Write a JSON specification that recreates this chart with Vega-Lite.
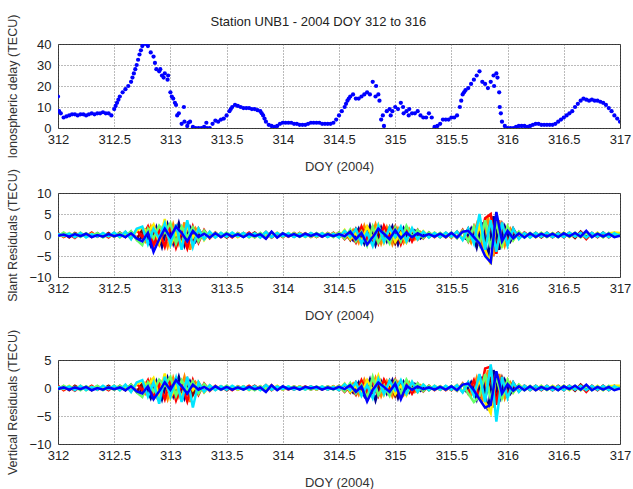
{
"$schema":"https://vega.github.io/schema/vega-lite/v6.json",
"background":"white",
"padding":{"left":5,"top":13,"right":5,"bottom":0},
"title":{"text":"Station UNB1 - 2004 DOY 312 to 316","font":"Liberation Sans","fontSize":13,"fontWeight":"normal","color":"#222","anchor":"middle","offset":-15},
"datasets":{
"ion":[
{"x":312.0,"y":15},{"x":312.01,"y":8},{"x":312.025,"y":7},{"x":312.05,"y":5},{"x":312.075,"y":5.5},{"x":312.1,"y":6},{"x":312.125,"y":6.5},{"x":312.15,"y":6.5},{"x":312.175,"y":6},{"x":312.2,"y":6.5},{"x":312.225,"y":6.5},{"x":312.25,"y":6},{"x":312.275,"y":6.5},{"x":312.3,"y":7},{"x":312.325,"y":6.5},{"x":312.35,"y":7},{"x":312.375,"y":7},{"x":312.4,"y":7.5},{"x":312.425,"y":7},{"x":312.45,"y":7},{"x":312.475,"y":6},{"x":312.5,"y":9},{"x":312.5125,"y":10.5},{"x":312.525,"y":12},{"x":312.5375,"y":13.5},{"x":312.55,"y":15},{"x":312.575,"y":17},{"x":312.6,"y":18.5},{"x":312.625,"y":20},{"x":312.65,"y":22},{"x":312.6625,"y":24},{"x":312.675,"y":26},{"x":312.6875,"y":28},{"x":312.7,"y":30},{"x":312.7125,"y":32.5},{"x":312.725,"y":35},{"x":312.7375,"y":37},{"x":312.75,"y":39},{"x":312.775,"y":40},{"x":312.8,"y":39},{"x":312.825,"y":36},{"x":312.85,"y":34},{"x":312.8625,"y":31},{"x":312.875,"y":28},{"x":312.9,"y":27},{"x":312.91,"y":28},{"x":312.925,"y":25},{"x":312.94,"y":24},{"x":312.95,"y":26},{"x":312.975,"y":23},{"x":312.98,"y":25},{"x":313.0,"y":17},{"x":313.0125,"y":15},{"x":313.025,"y":14},{"x":313.04,"y":12},{"x":313.05,"y":11},{"x":313.06,"y":6},{"x":313.075,"y":7},{"x":313.1,"y":2},{"x":313.12,"y":10},{"x":313.125,"y":3},{"x":313.15,"y":1},{"x":313.16,"y":2.5},{"x":313.175,"y":3},{"x":313.2,"y":0.5},{"x":313.225,"y":0},{"x":313.25,"y":0},{"x":313.275,"y":0},{"x":313.3,"y":0.5},{"x":313.32,"y":2.5},{"x":313.325,"y":0},{"x":313.35,"y":0},{"x":313.375,"y":2},{"x":313.4,"y":3.5},{"x":313.425,"y":3},{"x":313.45,"y":4},{"x":313.475,"y":4.5},{"x":313.5,"y":6},{"x":313.525,"y":8},{"x":313.5375,"y":9},{"x":313.55,"y":10},{"x":313.575,"y":11},{"x":313.6,"y":10.5},{"x":313.625,"y":10},{"x":313.65,"y":9.5},{"x":313.675,"y":9.5},{"x":313.7,"y":9.5},{"x":313.725,"y":9},{"x":313.75,"y":9},{"x":313.775,"y":8.5},{"x":313.8,"y":8},{"x":313.8125,"y":7},{"x":313.825,"y":6},{"x":313.8375,"y":4.5},{"x":313.85,"y":3},{"x":313.875,"y":1.5},{"x":313.9,"y":1},{"x":313.925,"y":0.5},{"x":313.95,"y":1},{"x":313.975,"y":2},{"x":314.0,"y":2.5},{"x":314.025,"y":2.5},{"x":314.05,"y":2.5},{"x":314.075,"y":2.5},{"x":314.1,"y":2},{"x":314.125,"y":2},{"x":314.15,"y":1.5},{"x":314.175,"y":1.5},{"x":314.2,"y":1.5},{"x":314.225,"y":2},{"x":314.25,"y":2.5},{"x":314.275,"y":2.5},{"x":314.3,"y":2.5},{"x":314.325,"y":2.5},{"x":314.35,"y":2},{"x":314.375,"y":2},{"x":314.4,"y":2},{"x":314.425,"y":2},{"x":314.45,"y":2.5},{"x":314.475,"y":4},{"x":314.5,"y":6},{"x":314.525,"y":8},{"x":314.55,"y":10},{"x":314.5625,"y":11.5},{"x":314.575,"y":13},{"x":314.5875,"y":14},{"x":314.6,"y":15},{"x":314.625,"y":16},{"x":314.65,"y":14},{"x":314.675,"y":14},{"x":314.7,"y":15},{"x":314.725,"y":16},{"x":314.75,"y":17},{"x":314.775,"y":16},{"x":314.8,"y":22},{"x":314.825,"y":15},{"x":314.83,"y":20},{"x":314.85,"y":16},{"x":314.86,"y":13},{"x":314.875,"y":4},{"x":314.89,"y":6},{"x":314.9,"y":1},{"x":314.925,"y":8},{"x":314.95,"y":9},{"x":314.96,"y":6},{"x":314.975,"y":8},{"x":315.0,"y":10},{"x":315.025,"y":9},{"x":315.05,"y":12},{"x":315.07,"y":10},{"x":315.075,"y":7},{"x":315.1,"y":8},{"x":315.12,"y":6},{"x":315.125,"y":9},{"x":315.15,"y":7},{"x":315.175,"y":7},{"x":315.2,"y":8},{"x":315.225,"y":6},{"x":315.25,"y":5},{"x":315.275,"y":5},{"x":315.3,"y":7},{"x":315.325,"y":5},{"x":315.35,"y":0.5},{"x":315.375,"y":1},{"x":315.4,"y":2},{"x":315.425,"y":4},{"x":315.45,"y":4},{"x":315.475,"y":4},{"x":315.5,"y":5},{"x":315.525,"y":5},{"x":315.55,"y":6},{"x":315.575,"y":10},{"x":315.5875,"y":13},{"x":315.6,"y":16},{"x":315.6125,"y":17},{"x":315.625,"y":18},{"x":315.65,"y":19},{"x":315.675,"y":21},{"x":315.7,"y":23},{"x":315.725,"y":25},{"x":315.75,"y":27},{"x":315.775,"y":22},{"x":315.8,"y":21},{"x":315.825,"y":19},{"x":315.85,"y":22},{"x":315.875,"y":25},{"x":315.88,"y":20},{"x":315.9,"y":26},{"x":315.91,"y":24},{"x":315.925,"y":17},{"x":315.93,"y":10},{"x":315.94,"y":7},{"x":315.95,"y":3},{"x":315.975,"y":1},{"x":316.0,"y":0},{"x":316.025,"y":0},{"x":316.05,"y":0},{"x":316.075,"y":0.5},{"x":316.1,"y":1},{"x":316.125,"y":1},{"x":316.15,"y":1},{"x":316.175,"y":0.5},{"x":316.2,"y":1},{"x":316.225,"y":1.5},{"x":316.25,"y":2},{"x":316.275,"y":2},{"x":316.3,"y":1.5},{"x":316.325,"y":1.5},{"x":316.35,"y":1.5},{"x":316.375,"y":1.5},{"x":316.4,"y":1.5},{"x":316.425,"y":2},{"x":316.45,"y":3},{"x":316.475,"y":4},{"x":316.5,"y":5},{"x":316.525,"y":6},{"x":316.55,"y":7},{"x":316.575,"y":8},{"x":316.6,"y":10},{"x":316.625,"y":11.5},{"x":316.65,"y":13},{"x":316.675,"y":14},{"x":316.7,"y":13.5},{"x":316.725,"y":13},{"x":316.75,"y":13.5},{"x":316.775,"y":13},{"x":316.8,"y":13},{"x":316.825,"y":12.5},{"x":316.85,"y":12},{"x":316.875,"y":11},{"x":316.9,"y":9.5},{"x":316.925,"y":8},{"x":316.95,"y":6},{"x":316.975,"y":4.5},{"x":317.0,"y":3}
],
"slant":[
{"x":312.00,"a":-0.3,"b":0.5,"c":0.2,"d":-0.4,"e":0.3,"f":-0.2},
{"x":312.05,"a":0.4,"b":-0.5,"c":-0.3,"d":0.6,"e":-0.2,"f":0.1},
{"x":312.10,"a":-0.6,"b":0.2,"c":0.5,"d":-0.2,"e":0.4,"f":-0.4},
{"x":312.15,"a":0.5,"b":-0.7,"c":-0.4,"d":0.3,"e":-0.5,"f":0.2},
{"x":312.20,"a":-0.2,"b":0.4,"c":0.6,"d":-0.5,"e":0.5,"f":-0.3},
{"x":312.25,"a":0.3,"b":-0.3,"c":-0.5,"d":0.4,"e":-0.6,"f":0.3},
{"x":312.30,"a":-0.5,"b":0.6,"c":0.3,"d":-0.3,"e":0.2,"f":-0.5},
{"x":312.35,"a":0.4,"b":-0.4,"c":-0.2,"d":0.5,"e":-0.4,"f":0.0},
{"x":312.40,"a":-0.3,"b":0.3,"c":0.4,"d":-0.6,"e":0.5,"f":-0.4},
{"x":312.45,"a":0.5,"b":-0.6,"c":-0.3,"d":0.2,"e":-0.3,"f":0.2},
{"x":312.50,"a":-0.4,"b":0.5,"c":0.5,"d":-0.4,"e":0.6,"f":-0.3},
{"x":312.55,"a":0.6,"b":-0.4,"c":-0.6,"d":0.5,"e":-0.5,"f":0.1},
{"x":312.60,"a":-0.5,"b":0.7,"c":0.4,"d":-0.3,"e":0.8,"f":-0.5},
{"x":312.65,"a":0.8,"b":-0.8,"c":-0.7,"d":0.9,"e":-1.0,"f":0.4},
{"x":312.70,"a":-1.0,"b":1.2,"c":1.0,"d":-1.2,"e":1.5,"f":-0.8},
{"x":312.75,"a":1.2,"b":-0.5,"c":1.8,"d":-2.4,"e":2.0,"f":-1.5},
{"x":312.80,"a":-1.8,"b":2.0,"c":0.6,"d":1.5,"e":-2.2,"f":0.5},
{"x":312.85,"a":0.5,"b":-2.5,"c":2.5,"d":-0.8,"e":1.5,"f":-4.0},
{"x":312.90,"a":-2.2,"b":1.0,"c":-2.0,"d":2.2,"e":-0.8,"f":-1.0},
{"x":312.95,"a":2.5,"b":-2.8,"c":3.8,"d":0.5,"e":2.8,"f":1.5},
{"x":313.00,"a":-1.0,"b":2.2,"c":-2.5,"d":2.8,"e":-2.2,"f":-0.5},
{"x":313.05,"a":2.0,"b":-3.0,"c":0.5,"d":-2.0,"e":2.5,"f":2.0},
{"x":313.10,"a":-2.0,"b":0.8,"c":-2.2,"d":2.0,"e":-3.5,"f":0.5},
{"x":313.15,"a":2.2,"b":-3.2,"c":2.0,"d":-0.5,"e":3.5,"f":-1.5},
{"x":313.20,"a":-1.8,"b":2.0,"c":-0.6,"d":1.8,"e":-2.8,"f":1.0},
{"x":313.25,"a":1.5,"b":-1.8,"c":1.5,"d":-1.5,"e":1.5,"f":-0.5},
{"x":313.30,"a":-1.0,"b":1.2,"c":-1.2,"d":1.0,"e":-1.0,"f":0.3},
{"x":313.35,"a":0.6,"b":-0.8,"c":0.7,"d":-0.6,"e":0.8,"f":-0.6},
{"x":313.40,"a":-0.5,"b":0.6,"c":-0.5,"d":0.5,"e":-0.6,"f":0.4},
{"x":313.45,"a":0.4,"b":-0.5,"c":0.5,"d":-0.4,"e":0.5,"f":-0.5},
{"x":313.50,"a":-0.6,"b":0.4,"c":-0.3,"d":0.6,"e":-0.4,"f":0.3},
{"x":313.55,"a":0.3,"b":-0.6,"c":0.5,"d":-0.3,"e":0.6,"f":-0.4},
{"x":313.60,"a":-0.4,"b":0.5,"c":-0.5,"d":0.4,"e":-0.3,"f":0.2},
{"x":313.65,"a":0.5,"b":-0.3,"c":0.4,"d":-0.5,"e":0.5,"f":-0.5},
{"x":313.70,"a":-0.3,"b":0.6,"c":-0.6,"d":0.3,"e":-0.5,"f":0.3},
{"x":313.75,"a":0.6,"b":-0.5,"c":0.3,"d":-0.6,"e":0.4,"f":-0.3},
{"x":313.80,"a":-0.5,"b":0.4,"c":-0.4,"d":0.5,"e":-0.6,"f":0.2},
{"x":313.85,"a":0.7,"b":-0.8,"c":0.6,"d":-0.5,"e":0.7,"f":-0.9},
{"x":313.90,"a":-0.6,"b":0.7,"c":-0.5,"d":0.6,"e":-0.5,"f":0.8},
{"x":313.95,"a":0.4,"b":-0.5,"c":0.6,"d":-0.4,"e":0.5,"f":-0.6},
{"x":314.00,"a":-0.5,"b":0.3,"c":-0.4,"d":0.5,"e":-0.3,"f":0.4},
{"x":314.05,"a":0.3,"b":-0.4,"c":0.5,"d":-0.3,"e":0.4,"f":-0.3},
{"x":314.10,"a":-0.4,"b":0.5,"c":-0.3,"d":0.4,"e":-0.5,"f":0.2},
{"x":314.15,"a":0.5,"b":-0.3,"c":0.4,"d":-0.5,"e":0.3,"f":-0.4},
{"x":314.20,"a":-0.3,"b":0.4,"c":-0.5,"d":0.3,"e":-0.4,"f":0.3},
{"x":314.25,"a":0.4,"b":-0.5,"c":0.3,"d":-0.4,"e":0.5,"f":-0.2},
{"x":314.30,"a":-0.5,"b":0.3,"c":-0.4,"d":0.5,"e":-0.3,"f":0.3},
{"x":314.35,"a":0.3,"b":-0.4,"c":0.5,"d":-0.3,"e":0.4,"f":-0.4},
{"x":314.40,"a":-0.4,"b":0.5,"c":-0.3,"d":0.4,"e":-0.5,"f":0.2},
{"x":314.45,"a":0.5,"b":-0.3,"c":0.4,"d":-0.5,"e":0.3,"f":-0.3},
{"x":314.50,"a":-0.5,"b":0.6,"c":-0.5,"d":0.6,"e":-0.6,"f":0.2},
{"x":314.55,"a":0.9,"b":-1.0,"c":1.2,"d":-0.8,"e":1.0,"f":-0.3},
{"x":314.60,"a":-1.2,"b":0.5,"c":-1.0,"d":1.3,"e":-0.5,"f":0.8},
{"x":314.65,"a":1.5,"b":-1.8,"c":0.4,"d":-1.5,"e":1.4,"f":-1.0},
{"x":314.70,"a":-0.6,"b":2.0,"c":-1.5,"d":0.8,"e":-2.0,"f":0.5},
{"x":314.75,"a":1.8,"b":-1.2,"c":2.0,"d":-2.5,"e":0.6,"f":-2.3},
{"x":314.80,"a":-2.0,"b":1.8,"c":-0.7,"d":2.0,"e":-2.6,"f":-0.5},
{"x":314.85,"a":0.8,"b":-2.0,"c":2.4,"d":-1.8,"e":2.2,"f":1.5},
{"x":314.90,"a":-1.5,"b":2.2,"c":-1.8,"d":0.6,"e":-1.6,"f":0.3},
{"x":314.95,"a":1.8,"b":-0.6,"c":1.5,"d":-2.0,"e":1.8,"f":-1.0},
{"x":315.00,"a":-2.0,"b":2.0,"c":-1.6,"d":1.8,"e":-0.5,"f":1.2},
{"x":315.05,"a":1.5,"b":-2.2,"c":0.5,"d":-1.5,"e":2.0,"f":-0.8},
{"x":315.10,"a":-1.6,"b":1.5,"c":-1.8,"d":2.2,"e":-1.5,"f":0.6},
{"x":315.15,"a":1.2,"b":-1.5,"c":1.4,"d":-0.4,"e":1.6,"f":-0.5},
{"x":315.20,"a":-1.0,"b":1.2,"c":-1.0,"d":1.2,"e":-1.0,"f":0.4},
{"x":315.25,"a":0.7,"b":-0.8,"c":0.9,"d":-0.7,"e":0.8,"f":-0.3},
{"x":315.30,"a":-0.5,"b":0.6,"c":-0.5,"d":0.6,"e":-0.6,"f":0.2},
{"x":315.35,"a":0.4,"b":-0.5,"c":0.6,"d":-0.4,"e":0.5,"f":-0.4},
{"x":315.40,"a":-0.5,"b":0.4,"c":-0.4,"d":0.5,"e":-0.5,"f":0.3},
{"x":315.45,"a":0.5,"b":-0.6,"c":0.4,"d":-0.5,"e":0.6,"f":-0.5},
{"x":315.50,"a":-0.6,"b":0.5,"c":-0.5,"d":0.6,"e":-0.4,"f":0.5},
{"x":315.55,"a":0.8,"b":-0.7,"c":0.7,"d":-0.8,"e":0.8,"f":-0.6},
{"x":315.60,"a":-1.0,"b":1.2,"c":-0.8,"d":1.0,"e":-1.2,"f":0.8},
{"x":315.65,"a":1.5,"b":-1.5,"c":1.2,"d":-1.5,"e":1.5,"f":1.0},
{"x":315.70,"a":-1.5,"b":2.0,"c":-1.8,"d":2.0,"e":-2.0,"f":-0.5},
{"x":315.75,"a":2.0,"b":-2.5,"c":2.2,"d":-2.2,"e":5.0,"f":-2.0},
{"x":315.80,"a":-2.5,"b":4.0,"c":-3.5,"d":3.5,"e":-3.5,"f":-5.0},
{"x":315.85,"a":3.0,"b":5.0,"c":-7.0,"d":-3.0,"e":3.5,"f":-6.5},
{"x":315.90,"a":-3.0,"b":-4.5,"c":4.0,"d":3.0,"e":-4.0,"f":5.5},
{"x":315.95,"a":2.5,"b":3.0,"c":-3.0,"d":-2.5,"e":3.0,"f":-1.5},
{"x":316.00,"a":-2.0,"b":-2.2,"c":2.0,"d":2.0,"e":-2.5,"f":1.0},
{"x":316.05,"a":1.5,"b":1.2,"c":-1.2,"d":-1.2,"e":1.5,"f":-0.8},
{"x":316.10,"a":-0.8,"b":-0.8,"c":0.8,"d":0.8,"e":-1.0,"f":0.4},
{"x":316.15,"a":0.5,"b":0.6,"c":-0.5,"d":-0.6,"e":0.5,"f":-0.6},
{"x":316.20,"a":-0.4,"b":-0.5,"c":0.4,"d":0.5,"e":-0.6,"f":0.4},
{"x":316.25,"a":0.5,"b":0.4,"c":-0.6,"d":-0.4,"e":0.5,"f":-0.5},
{"x":316.30,"a":-0.6,"b":-0.4,"c":0.5,"d":0.5,"e":-0.4,"f":0.3},
{"x":316.35,"a":0.4,"b":0.6,"c":-0.4,"d":-0.5,"e":0.6,"f":-0.4},
{"x":316.40,"a":-0.5,"b":-0.5,"c":0.5,"d":0.4,"e":-0.5,"f":0.3},
{"x":316.45,"a":0.6,"b":0.4,"c":-0.3,"d":-0.6,"e":0.4,"f":-0.5},
{"x":316.50,"a":-0.4,"b":-0.6,"c":0.6,"d":0.5,"e":-0.5,"f":0.4},
{"x":316.55,"a":0.5,"b":0.5,"c":-0.5,"d":-0.4,"e":0.6,"f":-0.3},
{"x":316.60,"a":-0.7,"b":-0.4,"c":0.4,"d":0.6,"e":-0.4,"f":0.5},
{"x":316.65,"a":0.8,"b":0.6,"c":-0.6,"d":-0.5,"e":0.5,"f":-0.4},
{"x":316.70,"a":-0.5,"b":-1.0,"c":0.5,"d":0.6,"e":-0.6,"f":1.0},
{"x":316.75,"a":0.4,"b":0.5,"c":-0.4,"d":-0.5,"e":0.5,"f":-0.5},
{"x":316.80,"a":-0.5,"b":-0.4,"c":0.6,"d":0.4,"e":-0.4,"f":0.3},
{"x":316.85,"a":0.6,"b":0.5,"c":-0.5,"d":-0.6,"e":0.6,"f":-0.4},
{"x":316.90,"a":-0.4,"b":-0.6,"c":0.4,"d":0.5,"e":-0.5,"f":0.3},
{"x":316.95,"a":0.5,"b":0.4,"c":0.6,"d":-0.4,"e":0.4,"f":-0.5},
{"x":317.00,"a":-0.3,"b":0.3,"c":0.5,"d":0.3,"e":-0.3,"f":-0.2}
],
"sburst":[
{"x":312.725,"k":1,"g":0.8,"h":-1.2},{"x":312.775,"k":1,"g":-1.5,"h":1.0},{"x":312.825,"k":1,"g":2.0,"h":-2.5},{"x":312.875,"k":1,"g":-2.2,"h":1.8},{"x":312.925,"k":1,"g":1.5,"h":-2.8},{"x":312.975,"k":1,"g":-2.8,"h":2.5},{"x":313.025,"k":1,"g":2.5,"h":-2.0},{"x":313.075,"k":1,"g":-2.0,"h":2.8},{"x":313.125,"k":1,"g":3.0,"h":-2.5},{"x":313.175,"k":1,"g":-3.5,"h":1.8},{"x":313.225,"k":1,"g":1.5,"h":-1.5},{"x":313.275,"k":1,"g":-0.8,"h":0.8},
{"x":314.575,"k":2,"g":-0.8,"h":0.6},{"x":314.625,"k":2,"g":1.2,"h":-1.2},{"x":314.675,"k":2,"g":-1.8,"h":1.5},{"x":314.725,"k":2,"g":2.2,"h":-2.0},{"x":314.775,"k":2,"g":-1.5,"h":2.2},{"x":314.825,"k":2,"g":2.5,"h":-2.4},{"x":314.875,"k":2,"g":-2.0,"h":1.8},{"x":314.925,"k":2,"g":1.8,"h":-1.5},{"x":314.975,"k":2,"g":-2.2,"h":2.0},{"x":315.025,"k":2,"g":1.5,"h":-2.2},{"x":315.075,"k":2,"g":-1.8,"h":1.6},{"x":315.125,"k":2,"g":1.4,"h":-1.2},{"x":315.175,"k":2,"g":-1.0,"h":1.0},{"x":315.225,"k":2,"g":0.7,"h":-0.8},{"x":315.275,"k":2,"g":-0.4,"h":0.5},
{"x":315.625,"k":3,"g":1.0,"h":-1.2},{"x":315.675,"k":3,"g":-1.8,"h":1.5},{"x":315.725,"k":3,"g":2.5,"h":-3.0},{"x":315.775,"k":3,"g":-3.5,"h":3.0},{"x":315.825,"k":3,"g":4.5,"h":-5.5},{"x":315.875,"k":3,"g":-5.0,"h":4.5},{"x":315.925,"k":3,"g":3.5,"h":-3.5},{"x":315.975,"k":3,"g":-2.5,"h":2.0},{"x":316.025,"k":3,"g":1.5,"h":-1.5},{"x":316.075,"k":3,"g":-0.8,"h":0.8}
],
"vert":[
{"x":312.00,"a":-0.2,"b":0.4,"c":0.1,"d":-0.3,"e":0.2,"f":-0.2},
{"x":312.05,"a":0.3,"b":-0.4,"c":-0.2,"d":0.4,"e":-0.1,"f":0.1},
{"x":312.10,"a":-0.4,"b":0.2,"c":0.4,"d":-0.2,"e":0.3,"f":-0.3},
{"x":312.15,"a":0.4,"b":-0.5,"c":-0.3,"d":0.2,"e":-0.4,"f":0.1},
{"x":312.20,"a":-0.2,"b":0.3,"c":0.4,"d":-0.4,"e":0.4,"f":-0.2},
{"x":312.25,"a":0.2,"b":-0.2,"c":-0.4,"d":0.3,"e":-0.4,"f":0.2},
{"x":312.30,"a":-0.4,"b":0.4,"c":0.2,"d":-0.2,"e":0.2,"f":-0.4},
{"x":312.35,"a":0.3,"b":-0.3,"c":-0.2,"d":0.4,"e":-0.3,"f":0.0},
{"x":312.40,"a":-0.2,"b":0.2,"c":0.3,"d":-0.4,"e":0.4,"f":-0.3},
{"x":312.45,"a":0.4,"b":-0.4,"c":-0.2,"d":0.2,"e":-0.2,"f":0.1},
{"x":312.50,"a":-0.3,"b":0.4,"c":0.4,"d":-0.3,"e":0.4,"f":-0.2},
{"x":312.55,"a":0.4,"b":-0.3,"c":-0.4,"d":0.4,"e":-0.4,"f":0.1},
{"x":312.60,"a":-0.4,"b":0.5,"c":0.3,"d":-0.2,"e":0.6,"f":-0.4},
{"x":312.65,"a":0.6,"b":-0.6,"c":-0.5,"d":0.6,"e":-0.7,"f":0.3},
{"x":312.70,"a":-0.7,"b":0.8,"c":0.7,"d":-0.8,"e":1.0,"f":-0.6},
{"x":312.75,"a":0.8,"b":-0.4,"c":1.2,"d":-1.6,"e":1.4,"f":-1.0},
{"x":312.80,"a":-1.2,"b":1.4,"c":0.4,"d":1.0,"e":-1.5,"f":0.3},
{"x":312.85,"a":0.4,"b":-1.8,"c":1.8,"d":-0.6,"e":1.0,"f":-2.0},
{"x":312.90,"a":-1.5,"b":0.7,"c":-1.4,"d":1.5,"e":-2.8,"f":-0.6},
{"x":312.95,"a":1.8,"b":-2.0,"c":2.6,"d":0.4,"e":2.0,"f":1.0},
{"x":313.00,"a":-0.7,"b":1.5,"c":-1.8,"d":2.0,"e":-1.5,"f":-0.3},
{"x":313.05,"a":1.4,"b":-2.2,"c":0.4,"d":-1.4,"e":1.8,"f":1.4},
{"x":313.10,"a":-1.4,"b":0.6,"c":-1.6,"d":1.4,"e":-2.5,"f":0.3},
{"x":313.15,"a":1.5,"b":-2.4,"c":1.4,"d":-0.4,"e":2.0,"f":-1.0},
{"x":313.20,"a":-1.2,"b":1.4,"c":-0.4,"d":1.2,"e":-3.5,"f":0.6},
{"x":313.25,"a":1.0,"b":-1.2,"c":1.0,"d":-1.0,"e":1.0,"f":-0.3},
{"x":313.30,"a":-0.7,"b":0.8,"c":-0.8,"d":0.7,"e":-0.7,"f":0.2},
{"x":313.35,"a":0.4,"b":-0.5,"c":0.5,"d":-0.4,"e":0.5,"f":-0.4},
{"x":313.40,"a":-0.3,"b":0.4,"c":-0.3,"d":0.3,"e":-0.4,"f":0.3},
{"x":313.45,"a":0.3,"b":-0.3,"c":0.3,"d":-0.3,"e":0.3,"f":-0.3},
{"x":313.50,"a":-0.4,"b":0.3,"c":-0.2,"d":0.4,"e":-0.3,"f":0.2},
{"x":313.55,"a":0.2,"b":-0.4,"c":0.3,"d":-0.2,"e":0.4,"f":-0.3},
{"x":313.60,"a":-0.3,"b":0.3,"c":-0.3,"d":0.3,"e":-0.2,"f":0.1},
{"x":313.65,"a":0.3,"b":-0.2,"c":0.3,"d":-0.3,"e":0.3,"f":-0.3},
{"x":313.70,"a":-0.2,"b":0.4,"c":-0.4,"d":0.2,"e":-0.3,"f":0.2},
{"x":313.75,"a":0.4,"b":-0.3,"c":0.2,"d":-0.4,"e":0.3,"f":-0.2},
{"x":313.80,"a":-0.3,"b":0.3,"c":-0.3,"d":0.3,"e":-0.4,"f":0.1},
{"x":313.85,"a":0.5,"b":-0.6,"c":0.4,"d":-0.3,"e":0.5,"f":-0.7},
{"x":313.90,"a":-0.4,"b":0.5,"c":-0.3,"d":0.4,"e":-0.3,"f":0.5},
{"x":313.95,"a":0.3,"b":-0.3,"c":0.4,"d":-0.3,"e":0.3,"f":-0.4},
{"x":314.00,"a":-0.3,"b":0.2,"c":-0.3,"d":0.3,"e":-0.2,"f":0.3},
{"x":314.05,"a":0.2,"b":-0.3,"c":0.3,"d":-0.2,"e":0.3,"f":-0.2},
{"x":314.10,"a":-0.3,"b":0.3,"c":-0.2,"d":0.3,"e":-0.3,"f":0.1},
{"x":314.15,"a":0.3,"b":-0.2,"c":0.3,"d":-0.3,"e":0.2,"f":-0.3},
{"x":314.20,"a":-0.2,"b":0.3,"c":-0.3,"d":0.2,"e":-0.3,"f":0.2},
{"x":314.25,"a":0.3,"b":-0.3,"c":0.2,"d":-0.3,"e":0.3,"f":-0.1},
{"x":314.30,"a":-0.3,"b":0.2,"c":-0.3,"d":0.3,"e":-0.2,"f":0.2},
{"x":314.35,"a":0.2,"b":-0.3,"c":0.3,"d":-0.2,"e":0.3,"f":-0.3},
{"x":314.40,"a":-0.3,"b":0.3,"c":-0.2,"d":0.3,"e":-0.3,"f":0.1},
{"x":314.45,"a":0.3,"b":-0.2,"c":0.3,"d":-0.3,"e":0.2,"f":-0.2},
{"x":314.50,"a":-0.4,"b":0.4,"c":-0.3,"d":0.4,"e":-0.4,"f":0.2},
{"x":314.55,"a":0.6,"b":-0.7,"c":0.8,"d":-0.6,"e":0.7,"f":-0.2},
{"x":314.60,"a":-0.8,"b":0.4,"c":-0.7,"d":0.9,"e":-0.4,"f":0.5},
{"x":314.65,"a":1.0,"b":-1.2,"c":0.3,"d":-1.0,"e":1.0,"f":-0.7},
{"x":314.70,"a":-0.4,"b":1.4,"c":-1.0,"d":0.6,"e":-1.4,"f":0.3},
{"x":314.75,"a":1.2,"b":-0.8,"c":1.4,"d":-1.8,"e":0.5,"f":-2.4},
{"x":314.80,"a":-1.4,"b":1.3,"c":-0.5,"d":2.0,"e":-1.8,"f":-0.3},
{"x":314.85,"a":0.6,"b":-1.4,"c":2.2,"d":-1.3,"e":1.6,"f":1.0},
{"x":314.90,"a":-1.0,"b":1.5,"c":-1.2,"d":0.4,"e":-1.1,"f":0.2},
{"x":314.95,"a":1.3,"b":-0.4,"c":1.0,"d":-1.4,"e":1.3,"f":-0.7},
{"x":315.00,"a":-1.4,"b":1.5,"c":-1.1,"d":1.3,"e":-0.4,"f":0.8},
{"x":315.05,"a":1.0,"b":-1.6,"c":0.4,"d":-1.0,"e":1.4,"f":-2.0},
{"x":315.10,"a":-1.1,"b":1.0,"c":-1.3,"d":1.5,"e":-1.0,"f":0.4},
{"x":315.15,"a":0.8,"b":-1.0,"c":1.0,"d":-0.3,"e":1.1,"f":-0.3},
{"x":315.20,"a":-0.7,"b":0.8,"c":-0.7,"d":0.8,"e":-0.7,"f":0.3},
{"x":315.25,"a":0.5,"b":-0.6,"c":0.6,"d":-0.5,"e":0.6,"f":-0.2},
{"x":315.30,"a":-0.4,"b":0.4,"c":-0.4,"d":0.4,"e":-0.4,"f":0.1},
{"x":315.35,"a":0.3,"b":-0.4,"c":0.4,"d":-0.3,"e":0.4,"f":-0.3},
{"x":315.40,"a":-0.3,"b":0.3,"c":-0.3,"d":0.3,"e":-0.3,"f":0.2},
{"x":315.45,"a":0.3,"b":-0.4,"c":0.3,"d":-0.3,"e":0.4,"f":-0.3},
{"x":315.50,"a":-0.4,"b":0.3,"c":-0.3,"d":0.4,"e":-0.3,"f":0.3},
{"x":315.55,"a":0.5,"b":-0.5,"c":0.5,"d":-0.5,"e":0.5,"f":-0.4},
{"x":315.60,"a":-0.7,"b":0.8,"c":-0.6,"d":0.7,"e":-0.8,"f":0.6},
{"x":315.65,"a":1.0,"b":-1.0,"c":0.8,"d":-1.0,"e":1.0,"f":0.8},
{"x":315.70,"a":-1.0,"b":1.4,"c":-1.2,"d":-2.5,"e":-1.4,"f":-0.4},
{"x":315.75,"a":1.4,"b":-1.8,"c":1.5,"d":-1.5,"e":2.5,"f":-2.0},
{"x":315.80,"a":-1.8,"b":3.5,"c":-2.5,"d":2.5,"e":-2.5,"f":-3.5},
{"x":315.85,"a":2.0,"b":3.8,"c":-4.5,"d":-2.0,"e":4.2,"f":-3.0},
{"x":315.90,"a":-2.0,"b":-3.0,"c":2.8,"d":2.0,"e":-6.0,"f":3.0},
{"x":315.95,"a":1.8,"b":2.0,"c":-2.0,"d":-1.8,"e":2.0,"f":-1.0},
{"x":316.00,"a":-1.4,"b":-1.5,"c":1.4,"d":1.4,"e":-1.8,"f":0.7},
{"x":316.05,"a":1.0,"b":0.8,"c":-0.8,"d":-0.8,"e":1.0,"f":-0.5},
{"x":316.10,"a":-0.6,"b":-0.6,"c":0.6,"d":0.6,"e":-0.7,"f":0.3},
{"x":316.15,"a":0.4,"b":0.4,"c":-0.4,"d":-0.4,"e":0.4,"f":-0.4},
{"x":316.20,"a":-0.3,"b":-0.4,"c":0.3,"d":0.4,"e":-0.4,"f":0.3},
{"x":316.25,"a":0.4,"b":0.3,"c":-0.4,"d":-0.3,"e":0.4,"f":-0.4},
{"x":316.30,"a":-0.4,"b":-0.3,"c":0.4,"d":0.4,"e":-0.3,"f":0.2},
{"x":316.35,"a":0.3,"b":0.4,"c":-0.3,"d":-0.4,"e":0.4,"f":-0.3},
{"x":316.40,"a":-0.4,"b":-0.4,"c":0.4,"d":0.3,"e":-0.4,"f":0.2},
{"x":316.45,"a":0.4,"b":0.3,"c":-0.2,"d":-0.4,"e":0.3,"f":-0.4},
{"x":316.50,"a":-0.3,"b":-0.4,"c":0.4,"d":0.4,"e":-0.4,"f":0.3},
{"x":316.55,"a":0.4,"b":0.4,"c":-0.4,"d":-0.3,"e":0.4,"f":-0.2},
{"x":316.60,"a":-0.5,"b":-0.3,"c":0.3,"d":0.4,"e":-0.3,"f":0.4},
{"x":316.65,"a":0.6,"b":0.4,"c":-0.4,"d":-0.4,"e":0.4,"f":-0.3},
{"x":316.70,"a":-0.4,"b":-0.7,"c":0.4,"d":0.4,"e":-0.4,"f":0.6},
{"x":316.75,"a":0.3,"b":0.4,"c":-0.3,"d":-0.4,"e":0.4,"f":-0.4},
{"x":316.80,"a":-0.4,"b":-0.3,"c":0.4,"d":0.3,"e":-0.3,"f":0.2},
{"x":316.85,"a":0.4,"b":0.4,"c":-0.4,"d":-0.4,"e":0.4,"f":-0.3},
{"x":316.90,"a":-0.3,"b":-0.4,"c":0.3,"d":0.4,"e":-0.4,"f":0.2},
{"x":316.95,"a":0.4,"b":0.3,"c":0.4,"d":-0.3,"e":0.3,"f":-0.4},
{"x":317.00,"a":-0.2,"b":0.2,"c":0.4,"d":0.2,"e":-0.2,"f":-0.1}
],
"vburst":[
{"x":312.725,"k":1,"g":0.6,"h":-0.8},{"x":312.775,"k":1,"g":-1.0,"h":0.7},{"x":312.825,"k":1,"g":1.4,"h":-1.8},{"x":312.875,"k":1,"g":-1.5,"h":1.2},{"x":312.925,"k":1,"g":1.0,"h":-2.0},{"x":312.975,"k":1,"g":-2.0,"h":1.8},{"x":313.025,"k":1,"g":1.8,"h":-1.4},{"x":313.075,"k":1,"g":-1.4,"h":2.0},{"x":313.125,"k":1,"g":2.0,"h":-1.8},{"x":313.175,"k":1,"g":-2.5,"h":1.2},{"x":313.225,"k":1,"g":1.0,"h":-1.0},{"x":313.275,"k":1,"g":-0.5,"h":0.5},
{"x":314.575,"k":2,"g":-0.5,"h":0.4},{"x":314.625,"k":2,"g":0.8,"h":-0.8},{"x":314.675,"k":2,"g":-1.2,"h":1.0},{"x":314.725,"k":2,"g":1.5,"h":-1.4},{"x":314.775,"k":2,"g":-1.0,"h":1.5},{"x":314.825,"k":2,"g":1.8,"h":-2.2},{"x":314.875,"k":2,"g":-1.4,"h":1.2},{"x":314.925,"k":2,"g":1.2,"h":-1.0},{"x":314.975,"k":2,"g":-1.5,"h":1.4},{"x":315.025,"k":2,"g":1.0,"h":-1.8},{"x":315.075,"k":2,"g":-1.2,"h":1.1},{"x":315.125,"k":2,"g":1.0,"h":-0.8},{"x":315.175,"k":2,"g":-0.7,"h":0.7},{"x":315.225,"k":2,"g":0.5,"h":-0.5},{"x":315.275,"k":2,"g":-0.3,"h":0.3},
{"x":315.625,"k":3,"g":0.7,"h":-0.8},{"x":315.675,"k":3,"g":-1.2,"h":1.0},{"x":315.725,"k":3,"g":1.8,"h":-2.0},{"x":315.775,"k":3,"g":-2.5,"h":2.0},{"x":315.825,"k":3,"g":3.2,"h":-4.0},{"x":315.875,"k":3,"g":-3.5,"h":3.2},{"x":315.925,"k":3,"g":2.5,"h":-2.5},{"x":315.975,"k":3,"g":-1.8,"h":1.4},{"x":316.025,"k":3,"g":1.0,"h":-1.0},{"x":316.075,"k":3,"g":-0.5,"h":0.5}
]
},
"vconcat":[
{"vconcat":[
{"width":562,"height":84,
"data":{"name":"ion"},
"mark":{"type":"point","filled":true,"size":18,"color":"#0000ff","opacity":1,"clip":true},
"encoding":{
"x":{"field":"x","type":"quantitative","scale":{"domain":[312,317],"nice":false,"zero":false},"axis":{"title":"DOY (2004)","values":[312,312.5,313,313.5,314,314.5,315,315.5,316,316.5,317],"format":"~f"}},
"y":{"field":"y","type":"quantitative","scale":{"domain":[0,40],"nice":false},"axis":{"title":"Ionospheric delay (TECU)","values":[0,10,20,30,40]}}
}},
{"width":562,"height":84,
"encoding":{
"x":{"field":"x","type":"quantitative","scale":{"domain":[312,317],"nice":false,"zero":false},"axis":{"title":"DOY (2004)","values":[312,312.5,313,313.5,314,314.5,315,315.5,316,316.5,317],"format":"~f"}},
"y":{"field":"v","type":"quantitative","scale":{"domain":[-10,10],"nice":false},"axis":{"title":"Slant Residuals (TECU)","values":[-10,-5,0,5,10]}}
},
"layer":[
{"data":{"name":"sburst"},
"transform":[{"fold":["g","h"],"as":["s","v"]}],
"mark":{"type":"line","strokeWidth":2.5,"clip":true},
"encoding":{
"color":{"field":"s","type":"nominal","scale":{"domain":["g","h","a","b","c","d","e","f"],"range":["#ff8800","#000090","#8b0000","#ff0000","#ffee00","#66ff66","#00e5ff","#0000ff"]},"legend":null},
"detail":{"field":"k"}
}},
{"data":{"name":"slant"},
"transform":[{"fold":["a","b","c","d","e","f"],"as":["s","v"]}],
"mark":{"type":"line","strokeWidth":2.5,"clip":true},
"encoding":{
"color":{"field":"s","type":"nominal","legend":null}
}}
]}
],"spacing":65,"bounds":"flush"},
{"width":562,"height":84,
"encoding":{
"x":{"field":"x","type":"quantitative","scale":{"domain":[312,317],"nice":false,"zero":false},"axis":{"title":"DOY (2004)","values":[312,312.5,313,313.5,314,314.5,315,315.5,316,316.5,317],"format":"~f"}},
"y":{"field":"v","type":"quantitative","scale":{"domain":[-10,5],"nice":false},"axis":{"title":"Vertical Residuals (TECU)","values":[-10,-5,0,5]}}
},
"layer":[
{"data":{"name":"vburst"},
"transform":[{"fold":["g","h"],"as":["s","v"]}],
"mark":{"type":"line","strokeWidth":2.5,"clip":true},
"encoding":{
"color":{"field":"s","type":"nominal","scale":{"domain":["g","h","a","b","c","d","e","f"],"range":["#ff8800","#000090","#8b0000","#ff0000","#ffee00","#66ff66","#00e5ff","#0000ff"]},"legend":null},
"detail":{"field":"k"}
}},
{"data":{"name":"vert"},
"transform":[{"fold":["a","b","c","d","e","f"],"as":["s","v"]}],
"mark":{"type":"line","strokeWidth":2.5,"clip":true},
"encoding":{
"color":{"field":"s","type":"nominal","legend":null}
}}
]}
],
"spacing":5,
"config":{
"view":{"stroke":"#333","strokeWidth":1},
"axis":{"labelFont":"Liberation Sans","labelFontSize":13,"labelColor":"#222","labelFlush":false,"titleFont":"Liberation Sans","titleFontSize":12,"titleFontWeight":"normal","titleColor":"#333","grid":true,"gridColor":"#555","gridDash":[1,2],"gridOpacity":0.8,"ticks":false,"domain":false},
"axisX":{"labelPadding":5,"titlePadding":14,"titleFontSize":13},
"axisY":{"labelPadding":7,"titleX":-46,"titleBaseline":"middle","titleFontSize":12.5}
}
}
